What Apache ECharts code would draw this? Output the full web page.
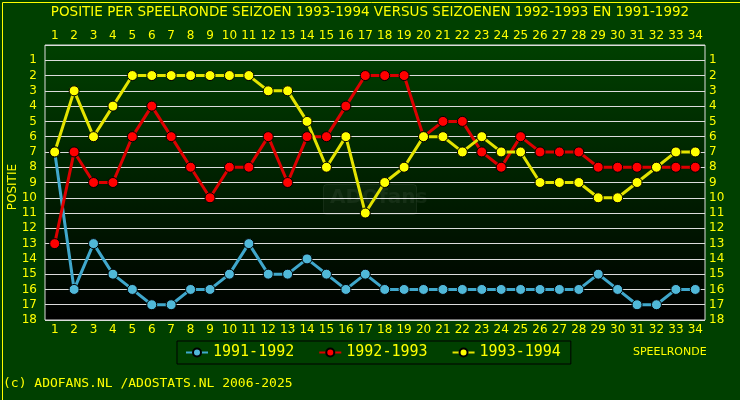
<!DOCTYPE html>
<html>
<head>
<meta charset="utf-8">
<script src="https://cdn.jsdelivr.net/npm/echarts@6/dist/echarts.min.js"></script>
<style>
  html, body { margin: 0; padding: 0; background: #004000; }
  #chart { width: 740px; height: 400px; }
</style>
</head>
<body>
<div id="chart"></div>
<script>
// speelrondes 1..34
const rounds = Array.from({length: 34}, (_, i) => String(i + 1))

// posities per speelronde
const pos9192 = [7, 16, 13, 15, 16, 17, 17, 16, 16, 15, 13, 15, 15, 14, 15, 16, 15, 16, 16, 16, 16, 16, 16, 16, 16, 16, 16, 16, 15, 16, 17, 17, 16, 16]
const pos9293 = [13, 7, 9, 9, 6, 4, 6, 8, 10, 8, 8, 6, 9, 6, 6, 4, 2, 2, 2, 6, 5, 5, 7, 8, 6, 7, 7, 7, 8, 8, 8, 8, 8, 8]
const pos9394 = [7, 3, 6, 4, 2, 2, 2, 2, 2, 2, 2, 3, 3, 5, 8, 6, 11, 9, 8, 6, 6, 7, 6, 7, 7, 9, 9, 9, 10, 10, 9, 8, 7, 7]

const yellow = '#ffff00'
const labelFont = {color: yellow, fontFamily: 'DejaVu Sans', fontSize: 12}

const chart = echarts.init(document.getElementById('chart'))

const mkSeries = (name, data, dot, line) => ({
  name,
  type: 'line',
  data,
  symbol: 'circle',
  symbolSize: 10,
  lineStyle: {color: line, width: 3},
  itemStyle: {color: dot, borderColor: '#000', borderWidth: 1},
  emphasis: {disabled: true},
  animation: false
})

const yAxisBase = {
  type: 'value',
  inverse: true,
  min: 0,
  max: 18,
  interval: 1,
  axisLine: {show: false},
  axisTick: {show: false},
  axisLabel: Object.assign({}, labelFont, {formatter: v => v === 0 ? '' : v}),
  splitLine: {show: true, lineStyle: {color: '#dcdcdc', width: 1}}
}

const xAxisBase = {
  type: 'category',
  data: rounds,
  boundaryGap: true,
  axisLine: {show: false},
  axisTick: {show: false},
  splitLine: {show: false}
}

chart.setOption({
  backgroundColor: '#004000',
  title: {
    text: 'POSITIE PER SPEELRONDE SEIZOEN 1993-1994 VERSUS SEIZOENEN 1992-1993 EN 1991-1992',
    left: 'center',
    top: 0,
    textStyle: {color: yellow, fontFamily: 'DejaVu Sans', fontSize: 13.5, fontWeight: 'normal'}
  },
  grid: {
    left: 45, right: 35, top: 45, bottom: 80,
    show: true,
    borderColor: '#dcdcdc',
    borderWidth: 1,
    backgroundColor: new echarts.graphic.LinearGradient(0, 0, 0, 1, [
      {offset: 0, color: '#004000'},
      {offset: 1, color: '#000000'}
    ])
  },
  legend: {
    data: ['1991-1992', '1992-1993', '1993-1994'],
    left: 177,
    top: 341,
    padding: [4, 10, 4, 8],
    itemGap: 24,
    itemWidth: 22,
    itemHeight: 10,
    borderColor: '#000',
    borderWidth: 1,
    textStyle: {color: yellow, fontFamily: 'DejaVu Sans Mono', fontSize: 15},
    selectedMode: false
  },
  xAxis: [
    Object.assign({}, xAxisBase, {position: 'top', axisLabel: Object.assign({}, labelFont, {interval: 0, margin: 3})}),
    Object.assign({}, xAxisBase, {position: 'bottom', axisLabel: Object.assign({}, labelFont, {interval: 0, margin: 4})})
  ],
  yAxis: [
    Object.assign({}, yAxisBase, {position: 'left'}),
    Object.assign({}, yAxisBase, {position: 'right', axisLabel: Object.assign({}, labelFont, {formatter: v => v === 0 ? '' : v, margin: 4}), splitLine: {show: false}})
  ],
  graphic: [
    {type: 'rect', left: 0, top: 0, shape: {width: 739, height: 399}, style: {fill: 'none', stroke: yellow, lineWidth: 1}, z: 100},
    {type: 'text', left: 7, top: 164, rotation: Math.PI / 2, style: {text: 'POSITIE', fill: yellow, font: '12px "DejaVu Sans"'}},
    {type: 'text', left: 633, top: 347, style: {text: 'SPEELRONDE', fill: yellow, font: '11px "DejaVu Sans"'}},
    {type: 'text', left: 3, top: 377, style: {text: '(c) ADOFANS.NL /ADOSTATS.NL 2006-2025', fill: yellow, font: '13px "DejaVu Sans Mono"'}},
    {type: 'rect', left: 323, top: 184, shape: {width: 93, height: 30, r: 3}, style: {fill: 'rgba(255,255,255,0.03)', stroke: 'rgba(255,255,255,0.07)', lineWidth: 1}, z: 1},
    {type: 'text', left: 330, top: 188, style: {text: 'ADOfans', fill: 'rgba(255,255,255,0.06)', font: 'bold 20px "DejaVu Sans"'}, z: 1}
  ],
  series: [
    mkSeries('1991-1992', pos9192, '#50b8d8', '#40a8cc'),
    mkSeries('1992-1993', pos9293, '#ff0000', '#dd0000'),
    mkSeries('1993-1994', pos9394, '#ffff00', '#e4e400')
  ]
})
</script>
</body>
</html>
